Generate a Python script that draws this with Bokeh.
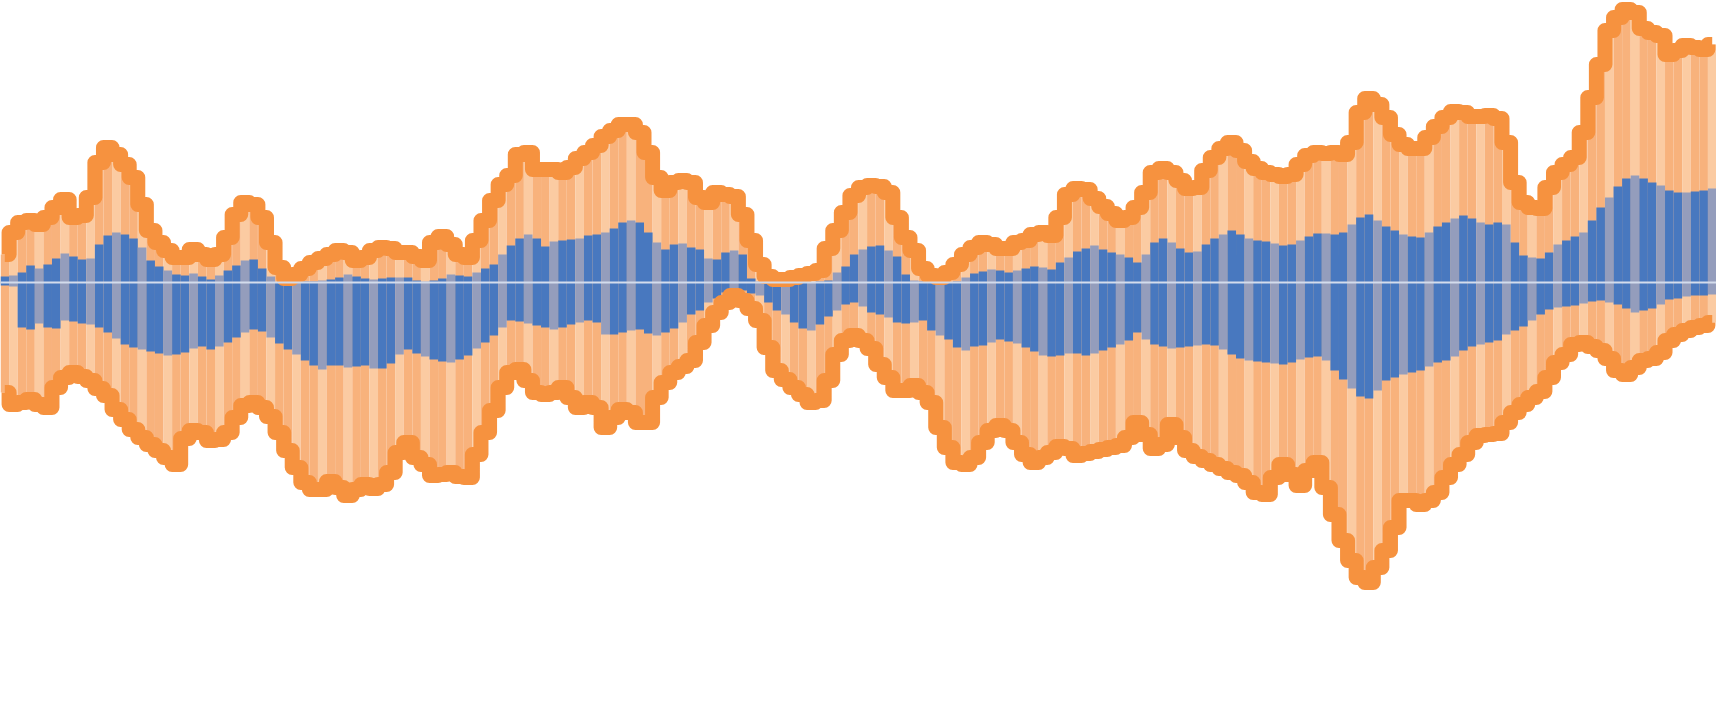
from bokeh.plotting import figure
from bokeh.models import Range1d, ColumnDataSource, Span
from bokeh.embed import file_html
from bokeh.resources import INLINE

# ---- data (one value per bar, same units for all series) ----
orange_up = [28, 50, 60, 62, 58, 65, 75, 83, 65, 67,
             85, 120, 135, 128, 118, 105, 78, 52, 40, 32,
             25, 25, 33, 28, 23, 28, 45, 68, 80, 78,
             65, 40, 15, 4, 8, 14, 20, 24, 28, 32,
             30, 22, 25, 32, 35, 34, 30, 30, 26, 22,
             40, 46, 38, 28, 25, 42, 62, 82, 98, 107,
             128, 130, 113, 113, 113, 110, 115, 124, 130, 137,
             146, 152, 158, 158, 150, 130, 105, 92, 100, 102,
             100, 85, 80, 90, 88, 86, 68, 42, 18, 6,
             3, 3, 5, 7, 9, 12, 34, 52, 70, 87,
             95, 97, 96, 90, 65, 45, 32, 14, 7, 5,
             10, 18, 28, 35, 40, 38, 34, 34, 40, 42,
             48, 50, 47, 65, 88, 94, 93, 84, 76, 69,
             62, 65, 75, 90, 110, 114, 110, 102, 94, 95,
             112, 125, 134, 140, 132, 121, 114, 110, 108, 106,
             108, 118, 127, 130, 129, 130, 128, 140, 170, 184,
             178, 165, 148, 138, 134, 134, 145, 156, 165, 171,
             170, 166, 166, 167, 164, 140, 100, 80, 75, 74,
             95, 110, 118, 125, 150, 185, 218, 252, 265, 273,
             270, 254, 250, 247, 228, 232, 237, 235, 233, 238]

blue_up = [6, 7, 10, 17, 14, 18, 24, 29, 26, 23,
           24, 38, 47, 50, 48, 44, 35, 22, 16, 12,
           8, 7, 9, 6, 3, 7, 12, 17, 22, 23,
           14, 6, 0, 0, 0, 1, 1, 2, 3, 5,
           8, 6, 4, 3, 4, 5, 5, 5, 2, 1,
           2, 4, 8, 7, 6, 10, 14, 18, 28, 37,
           44, 48, 44, 36, 41, 42, 43, 44, 47, 48,
           50, 54, 60, 62, 60, 50, 40, 33, 38, 39,
           35, 33, 24, 23, 30, 32, 28, 4, 1, 0,
           0, 0, 0, 0, 0, 1, 2, 10, 16, 28,
           33, 36, 37, 32, 26, 8, 2, 1, 0, 0,
           0, 1, 5, 9, 11, 13, 12, 10, 12, 14,
           16, 15, 13, 20, 25, 31, 34, 37, 33, 30,
           28, 25, 20, 28, 40, 44, 40, 34, 30, 31,
           38, 44, 48, 52, 48, 44, 42, 41, 39, 37,
           38, 42, 46, 49, 49, 48, 50, 58, 65, 68,
           62, 56, 52, 48, 46, 45, 50, 56, 60, 64,
           67, 64, 60, 58, 60, 58, 40, 27, 25, 24,
           30, 38, 42, 46, 50, 62, 75, 85, 96, 104,
           107, 104, 100, 97, 92, 90, 90, 91, 92, 94]

blue_down = [-3, -4, -45, -47, -41, -45, -46, -38, -39, -41,
             -42, -45, -50, -56, -62, -65, -67, -69, -71, -73,
             -72, -70, -66, -64, -67, -64, -60, -55, -50, -47,
             -49, -55, -61, -67, -72, -78, -83, -87, -83, -83,
             -85, -84, -83, -86, -86, -81, -72, -67, -71, -74,
             -77, -79, -80, -77, -73, -66, -60, -53, -45, -38,
             -39, -41, -43, -45, -47, -45, -42, -40, -38, -40,
             -52, -52, -50, -48, -47, -51, -53, -50, -46, -40,
             -32, -28, -20, -16, -10, -7, -8, -11, -13, -20,
             -28, -32, -40, -46, -48, -42, -34, -28, -22, -20,
             -24, -30, -32, -35, -40, -41, -40, -38, -48, -53,
             -57, -65, -68, -64, -63, -60, -57, -59, -61, -65,
             -69, -73, -74, -73, -71, -71, -73, -71, -68, -65,
             -62, -58, -50, -57, -62, -64, -66, -65, -64, -63,
             -62, -63, -67, -72, -76, -78, -79, -80, -81, -82,
             -80, -77, -75, -74, -78, -88, -97, -106, -114, -116,
             -108, -98, -95, -92, -90, -88, -84, -80, -78, -74,
             -68, -64, -62, -60, -58, -52, -48, -44, -38, -32,
             -27, -25, -24, -23, -21, -19, -18, -20, -22, -26,
             -30, -28, -26, -22, -17, -16, -14, -13, -13, -12]

orange_down = [-110, -122, -120, -117, -122, -125, -105, -95, -90, -94,
               -98, -106, -113, -127, -137, -147, -155, -162, -168, -175,
               -182, -156, -148, -150, -158, -157, -150, -135, -123, -120,
               -125, -134, -150, -168, -185, -200, -207, -207, -199, -205,
               -213, -207, -202, -206, -202, -190, -170, -160, -175, -182,
               -193, -192, -190, -194, -195, -172, -150, -128, -105, -90,
               -87, -98, -110, -112, -110, -105, -115, -125, -120, -125,
               -145, -135, -127, -130, -140, -140, -115, -100, -90, -84,
               -78, -60, -43, -30, -20, -13, -18, -26, -38, -65,
               -88, -97, -105, -112, -120, -118, -98, -72, -58, -53,
               -58, -66, -82, -95, -108, -108, -103, -110, -120, -145,
               -165, -180, -182, -175, -160, -148, -143, -148, -160, -172,
               -180, -175, -170, -164, -166, -173, -171, -169, -167, -165,
               -163, -155, -140, -152, -166, -162, -142, -155, -168, -174,
               -178, -182, -186, -190, -193, -200, -210, -212, -195, -182,
               -192, -203, -188, -180, -205, -232, -258, -278, -295, -300,
               -285, -268, -245, -218, -218, -222, -218, -210, -195, -182,
               -172, -160, -153, -152, -151, -140, -130, -122, -115, -109,
               -95, -80, -72, -62, -60, -64, -68, -76, -88, -92,
               -85, -78, -76, -70, -58, -52, -48, -45, -43, -40]

n = len(blue_up)
idx = list(range(n))

BLUE = "#4878BF"
BLUE_LIGHT = "#949DBC"
ORANGE = "#F6923F"
ORANGE_FILL = "#F8B27C"
ORANGE_FILL_LIGHT = "#FBCBA2"

blue_colors = [BLUE_LIGHT if i % 3 == 1 else BLUE for i in idx]
orange_colors = [ORANGE_FILL_LIGHT if i % 3 == 1 else ORANGE_FILL for i in idx]

src = ColumnDataSource(dict(x=idx, ou=orange_up, od=orange_down,
                            bu=blue_up, bd=blue_down,
                            bc=blue_colors, oc=orange_colors))

p = figure(width=1716, height=720, output_backend="svg", toolbar_location=None,
           x_range=Range1d(-0.5, n - 0.5), y_range=Range1d(-438, 282),
           x_axis_location=None, y_axis_location=None,
           min_border=0, min_border_left=0, min_border_right=0,
           min_border_top=0, min_border_bottom=0)
p.grid.visible = False
p.outline_line_color = None
p.background_fill_color = "white"
p.border_fill_color = "white"

# light orange range bars
p.vbar(x="x", bottom=0, top="ou", width=1.0, fill_color="oc", line_color=None, source=src)
p.vbar(x="x", bottom=0, top="od", width=1.0, fill_color="oc", line_color=None, source=src)
# blue bars
p.vbar(x="x", bottom=0, top="bu", width=1.0, fill_color="bc", line_color=None, source=src)
p.vbar(x="x", bottom=0, top="bd", width=1.0, fill_color="bc", line_color=None, source=src)
# thick envelope lines
p.step(x="x", y="ou", mode="center", line_width=15, line_color=ORANGE,
       line_join="round", source=src)
p.step(x="x", y="od", mode="center", line_width=15, line_color=ORANGE,
       line_join="round", source=src)

p.add_layout(Span(location=0, dimension="width", line_color="#D3DCEC", line_width=2))

open("out.html", "w").write(file_html(p, INLINE))
